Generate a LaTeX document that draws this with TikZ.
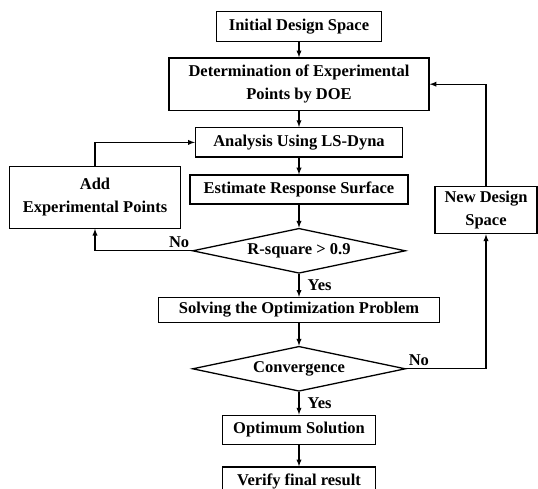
\documentclass[tikz,border=0pt]{standalone}
\usepackage{fontspec}
\setmainfont{Liberation Serif}
\usetikzlibrary{shapes.geometric}

\begin{document}
\begin{tikzpicture}[
    x=1pt, y=-1pt,
    font=\fontsize{16.5}{22.5}\selectfont\bfseries,
    line width=1.3pt,
    block/.style={rectangle, draw, align=center, inner sep=2pt},
    decision/.style={diamond, draw, aspect=4.7, inner sep=0pt, minimum width=213pt, minimum height=45pt},
    lab/.style={inner sep=2pt},
    >=latex
]
\useasboundingbox (0,0) rectangle (538,489);

% Hauptstrang
\node[block, minimum width=165pt, minimum height=30pt] at (299,26.2) (init) {Initial Design Space};
\node[block, minimum width=260pt, minimum height=52.5pt] at (299,84.2) (doe) {Determination of Experimental\\Points by DOE};
\node[block, minimum width=207pt, minimum height=29.5pt] at (299,142.4) (analysis) {Analysis Using LS-Dyna};
\node[block, minimum width=218pt, minimum height=29pt] at (299,189.6) (estimate) {Estimate Response Surface};
\node[decision] at (299,250.8) (rsq) {R-square > 0.9};
\node[block, minimum width=281pt, minimum height=25pt] at (299,310) (solve) {Solving the Optimization Problem};
\node[decision] at (299,368.8) (conv) {Convergence};
\node[block, minimum width=153pt, minimum height=29pt] at (299,429.7) (optimum) {Optimum Solution};
\node[block, minimum width=153pt, minimum height=29pt] at (299,481.5) (verify) {Verify final result};

% Rueckfuehrungen
\node[block, minimum width=170.5pt, minimum height=62pt] at (95,197.2) (addpts) {Add\\Experimental Points};
\node[block, minimum width=102pt, minimum height=47pt] at (486,210.2) (newspace) {New Design\\Space};

% Verbindungspfeile
\draw[->] (init) -- (doe);
\draw[->] (doe) -- (analysis);
\draw[->] (analysis) -- (estimate);
\draw[->] (estimate) -- (rsq);
\draw[->] (rsq) -- node[lab, right=6pt] {Yes} (solve);
\draw[->] (solve) -- (conv);
\draw[->] (conv) -- node[lab, right=6pt] {Yes} (optimum);
\draw[->] (optimum) -- (verify);

\draw[->] (rsq.west) node[lab, above left] {No} -| (addpts.south);
\draw[->] (addpts.north) |- (analysis.west);
\draw[->] (conv.east) node[lab, above right] {No} -| (newspace.south);
\draw[->] (newspace.north) |- (doe.east);
\end{tikzpicture}
\end{document}
